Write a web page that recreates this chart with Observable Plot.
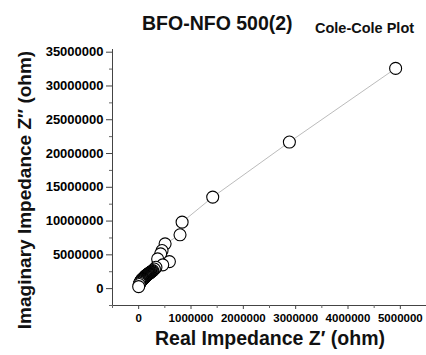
<!DOCTYPE html>
<html>
<head>
<meta charset="utf-8">
<script src="https://cdn.jsdelivr.net/npm/d3@7"></script>
<script src="https://cdn.jsdelivr.net/npm/@observablehq/plot@0.6"></script>
<style>
  html, body { margin: 0; padding: 0; background: #fff; }
  #chart { width: 426px; height: 355px; }
  svg text { font-family: "Liberation Sans", Arial, sans-serif; }
</style>
</head>
<body>
<div id="chart"></div>
<script>
// Data (ohm), in measurement order
const zReal = [4910000, 2880000, 1415000, 830000, 790000, 505000, 447000, 420000, 587000, 363000, 460000, 330000, 300000, 270000, 255000, 240000, 230000, 220000, 210000, 200000, 192000, 185000, 178000, 170000, 162000, 155000, 148000, 140000, 135000, 130000, 125000, 120000, 115000, 110000, 105000, 100000, 95000, 90000, 85000, 80000, 75000, 70000, 65000, 60000, 55000, 50000, 45000, 40000, 35000, 30000, 20000, 10000, 0];
const zImag = [32600000, 21700000, 13550000, 9840000, 7970000, 6630000, 5640000, 5150000, 4000000, 4400000, 3520000, 3160000, 2900000, 2670000, 2580000, 2500000, 2440000, 2380000, 2320000, 2270000, 2220000, 2180000, 2140000, 2100000, 2050000, 2010000, 1970000, 1930000, 1880000, 1840000, 1800000, 1750000, 1710000, 1680000, 1640000, 1600000, 1560000, 1520000, 1480000, 1440000, 1400000, 1370000, 1330000, 1300000, 1260000, 1220000, 1150000, 1080000, 1000000, 940000, 800000, 600000, 300000];
const xTicks = [0, 1000000, 2000000, 3000000, 4000000, 5000000];
const xMinor = [-500000, 500000, 1500000, 2500000, 3500000, 4500000];
const yTicks = [0, 5000000, 10000000, 15000000, 20000000, 25000000, 30000000, 35000000];
const yMinor = [-2500000, 2500000, 7500000, 12500000, 17500000, 22500000, 27500000, 32500000];
const titleText = "BFO-NFO 500(2)";
const subText = "Cole-Cole Plot";
const xLabel = "Real Impedance Z\u2032 (ohm)";
const yLabel = "Imaginary Impedance Z\u2033 (ohm)";

const data = zReal.map((x, i) => ({x, y: zImag[i]}));
const fmt = d3.format("d");
const xDom = [-500000, 5500000], yDom = [-2500000, 35400000];

const plot = Plot.plot({
  width: 426,
  height: 355,
  marginLeft: 112,
  marginRight: 0,
  marginTop: 49,
  marginBottom: 50,
  style: {background: "#fff", color: "#000", fontFamily: "Liberation Sans, Arial, sans-serif"},
  x: {domain: xDom},
  y: {domain: yDom},
  marks: [
    Plot.ruleX([xDom[0]], {stroke: "#444", strokeWidth: 1}),
    Plot.ruleY([yDom[0]], {stroke: "#444", strokeWidth: 1}),
    Plot.axisX({ticks: xTicks, tickFormat: fmt, tickSize: 4, tickPadding: 4, fontSize: 11.5, fontWeight: "bold", label: null, stroke: "#444"}),
    Plot.axisX({ticks: xMinor, tickFormat: null, text: null, tickSize: 3, label: null, stroke: "#666"}),
    Plot.axisY({ticks: yTicks, tickFormat: fmt, tickSize: 6, tickPadding: 3, fontSize: 13, fontWeight: "bold", label: null, stroke: "#444"}),
    Plot.axisY({ticks: yMinor, text: null, tickSize: 3, label: null, stroke: "#666"}),
    Plot.line(data, {x: "x", y: "y", stroke: "#aaa", strokeWidth: 0.8}),
    Plot.dot(data, {x: "x", y: "y", r: 6, fill: "#fff", stroke: "#000", strokeWidth: 1.1})
  ]
});

const svg = d3.select(plot);
svg.append("text").attr("x", 142).attr("y", 30).attr("text-anchor", "start")
  .attr("font-size", 19.5).attr("font-weight", "bold").attr("fill", "#111")
  .text(titleText);
svg.append("text").attr("x", 315).attr("y", 33).attr("text-anchor", "start")
  .attr("font-size", 14.5).attr("font-weight", "bold").attr("fill", "#111")
  .text(subText);
svg.append("text").attr("x", 270).attr("y", 345).attr("text-anchor", "middle")
  .attr("font-size", 19.5).attr("font-weight", "bold").attr("fill", "#111")
  .text(xLabel);
svg.append("text").attr("transform", "translate(31,190) rotate(-90)").attr("text-anchor", "middle")
  .attr("font-size", 19).attr("font-weight", "bold").attr("fill", "#111")
  .text(yLabel);

document.getElementById("chart").appendChild(plot);
</script>
</body>
</html>
